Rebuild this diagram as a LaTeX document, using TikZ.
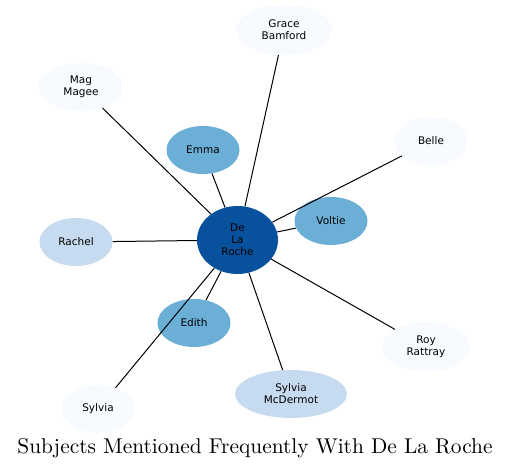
\documentclass[tikz,border=0pt]{standalone}
\usepackage{fontspec}
\newfontfamily\dejavu{DejaVu Sans}
\newfontfamily\tfont{lmroman10-regular}[Extension=.otf]
\usetikzlibrary{shapes.geometric}
\definecolor{b0}{HTML}{F7FBFF}
\definecolor{b1}{HTML}{C6DBEF}
\definecolor{b2}{HTML}{6BAED6}
\definecolor{b3}{HTML}{08519C}
\begin{document}
\begin{tikzpicture}[x=1pt,y=-1pt,
  ent/.style={ellipse,inner sep=0pt,font=\dejavu\fontsize{10.5}{12}\selectfont,align=center,minimum height=48pt},
  edge/.style={draw=black,line width=1pt}]
\useasboundingbox (0,0) rectangle (509,470);
\node[ent,fill=b3,minimum width=81pt,minimum height=68pt] (c) at (237.5,240) {De\\La\\Roche};
\node[ent,fill=b0,minimum width=96pt,minimum height=50pt] (grace) at (284,30) {Grace\\Bamford};
\node[ent,fill=b0,minimum width=85pt] (mag) at (81,87) {Mag\\Magee};
\node[ent,fill=b2,minimum width=73pt] (emma) at (203,150) {Emma};
\node[ent,fill=b0,minimum width=73pt] (belle) at (431,141) {Belle};
\node[ent,fill=b2,minimum width=73pt] (voltie) at (331,221) {Voltie};
\node[ent,fill=b1,minimum width=73pt] (rachel) at (76,242) {Rachel};
\node[ent,fill=b2,minimum width=73pt] (edith) at (194,323) {Edith};
\node[ent,fill=b0,minimum width=88pt,minimum height=49pt] (roy) at (426,347) {Roy\\Rattray};
\node[ent,fill=b1,minimum width=112pt] (smcd) at (291,394) {Sylvia\\McDermot};
\node[ent,fill=b0,minimum width=73pt] (sylvia) at (98,409) {Sylvia};
\foreach \n in {grace,mag,emma,belle,voltie,rachel,edith,roy,smcd,sylvia}
  \draw[edge] (c) -- (\n);
\node[font=\tfont\fontsize{21.4}{25}\selectfont] (title) at (255,448) {Subjects Mentioned Frequently With De La Roche};
\end{tikzpicture}
\end{document}
